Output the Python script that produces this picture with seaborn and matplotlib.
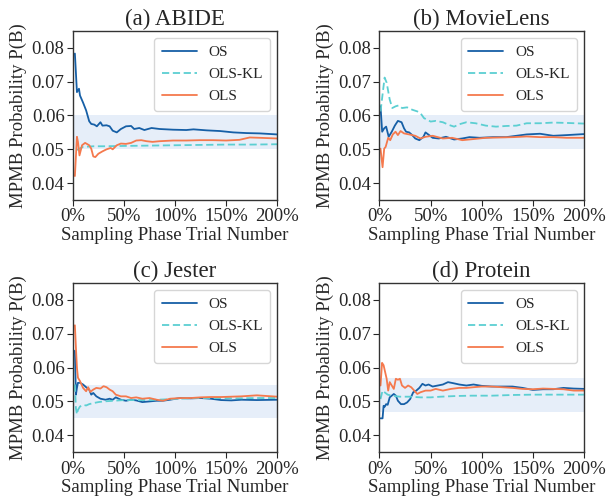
import numpy as np
import pandas as pd
import seaborn as sns
import matplotlib
matplotlib.use("Agg")
import matplotlib.pyplot as plt
from matplotlib.ticker import FuncFormatter

# ---- data (x = % of sampling phase trial number) ----
methods = ["OS", "OLS-KL", "OLS"]
titles = ["(a) ABIDE", "(b) MovieLens", "(c) Jester", "(d) Protein"]
bands = [(0.050, 0.060), (0.050, 0.060), (0.045, 0.055), (0.047, 0.057)]

abide_os_x = [2, 4, 6, 7, 10, 13, 16, 18, 21, 23.5, 27, 29, 33, 36, 39, 43, 47, 52, 57, 60, 65,
              70, 77, 85, 98, 111, 118, 131, 144, 157, 170, 183, 200]
abide_os = [0.0783, 0.0669, 0.0679, 0.0659, 0.0638, 0.0615, 0.0583, 0.0575, 0.0573, 0.0568, 0.0580,
            0.0570, 0.0571, 0.0568, 0.0555, 0.0550, 0.0560, 0.0568, 0.0569, 0.0560, 0.0563,
            0.0557, 0.0563, 0.0560, 0.0558, 0.0557, 0.0559, 0.0556, 0.0554, 0.0550, 0.0548, 0.0547, 0.0544]
abide_kl_x = [4, 7, 10, 15, 20, 30, 50, 75, 100, 125, 150, 175, 200]
abide_kl = [0.0498, 0.0503, 0.0507, 0.0508, 0.0509, 0.0509, 0.0510, 0.0511, 0.0512, 0.0513,
            0.0514, 0.0514, 0.0515]
abide_ols_x = [2, 4, 5, 6.5, 9, 12, 16, 18, 20, 22, 25, 29, 33, 37, 39, 43, 47, 52, 57, 62, 67,
               72, 78, 85, 98, 111, 124, 137, 150, 163, 173, 183, 200]
abide_ols = [0.0421, 0.0537, 0.0522, 0.0482, 0.0512, 0.0519, 0.0512, 0.0502, 0.0479, 0.0477, 0.0487,
             0.0494, 0.0500, 0.0504, 0.0500, 0.0512, 0.0517, 0.0516, 0.0519, 0.0526, 0.0527,
             0.0524, 0.0522, 0.0524, 0.0526, 0.0526, 0.0527, 0.0527, 0.0526, 0.0528, 0.0535, 0.0534, 0.0532]

movie_os_x = [1, 2.6, 4.6, 6.5, 9, 12, 15, 18, 21.6, 24, 26, 29, 32, 35, 39, 43, 45, 48.5, 52, 58,
              65, 73, 81, 88, 98, 111, 124, 144, 157, 170, 183, 200]
movie_os = [0.0627, 0.0552, 0.0562, 0.0567, 0.0537, 0.0552, 0.0570, 0.0584, 0.0580, 0.0562, 0.0552,
            0.0550, 0.0542, 0.0532, 0.0527, 0.0537, 0.0550, 0.0542, 0.0534, 0.0532, 0.0537,
            0.0529, 0.0532, 0.0536, 0.0534, 0.0536, 0.0536, 0.0544, 0.0546, 0.0540, 0.0542, 0.0545]
movie_kl_x = [1, 5, 7, 10, 12.5, 15.7, 19, 22, 27, 32, 37, 40, 43.6, 47, 50, 55, 62, 68, 73, 78,
              85, 94, 104, 114, 124, 134, 144, 157, 170, 183, 200]
movie_kl = [0.0612, 0.0712, 0.0697, 0.0647, 0.0622, 0.0627, 0.0630, 0.0622, 0.0624, 0.0617, 0.0612,
            0.0607, 0.0592, 0.0587, 0.0582, 0.0584, 0.0580, 0.0572, 0.0567, 0.0574, 0.0580,
            0.0577, 0.0570, 0.0567, 0.0569, 0.0570, 0.0577, 0.0577, 0.0579, 0.0578, 0.0576]
movie_ols_x = [1, 3, 4.6, 6, 8.5, 10.5, 13, 15.7, 18, 20.6, 24, 29, 35, 40, 45, 52, 62, 71, 81,
               91, 104, 117, 131, 144, 157, 170, 183, 200]
movie_ols = [0.0502, 0.0447, 0.0502, 0.0507, 0.0534, 0.0527, 0.0544, 0.0552, 0.0542, 0.0554, 0.0547,
             0.0544, 0.0540, 0.0532, 0.0537, 0.0540, 0.0532, 0.0534, 0.0527, 0.0530, 0.0534,
             0.0535, 0.0536, 0.0538, 0.0536, 0.0536, 0.0534, 0.0534]

jester_os_x = [2, 3, 4, 5, 7, 10, 13, 16, 18, 20, 23, 27, 32, 36, 39, 42, 47, 52, 57, 62, 68, 75,
               82, 88, 95, 105, 115, 125, 135, 145, 155, 165, 180, 200]
jester_os = [0.0650, 0.0520, 0.0540, 0.0555, 0.0555, 0.0550, 0.0542, 0.0535, 0.0520, 0.0525, 0.0515,
             0.0508, 0.0505, 0.0508, 0.0505, 0.0512, 0.0505, 0.0502, 0.0505, 0.0503, 0.0498, 0.0500,
             0.0502, 0.0502, 0.0505, 0.0510, 0.0509, 0.0510, 0.0508, 0.0504, 0.0503, 0.0505, 0.0504, 0.0505]
jester_kl_x = [2, 3, 4, 5, 7, 10, 13, 16, 20, 25, 30, 40, 50, 60, 75, 90, 105, 120, 140, 160, 180, 200]
jester_kl = [0.0550, 0.0480, 0.0462, 0.0475, 0.0485, 0.0490, 0.0488, 0.0492, 0.0495, 0.0498, 0.0500,
             0.0502, 0.0504, 0.0504, 0.0504, 0.0506, 0.0508, 0.0510, 0.0510, 0.0509, 0.0510, 0.0510]
jester_ols_x = [2, 3, 4, 5, 7, 10, 13, 15, 17, 20, 23, 27, 30, 33, 36, 39, 42, 47, 52, 57, 62, 68,
                75, 82, 88, 95, 105, 115, 125, 135, 145, 155, 165, 180, 200]
jester_ols = [0.0725, 0.0660, 0.0600, 0.0570, 0.0560, 0.0540, 0.0530, 0.0542, 0.0528, 0.0535, 0.0540,
              0.0538, 0.0545, 0.0542, 0.0535, 0.0530, 0.0520, 0.0515, 0.0515, 0.0510, 0.0512, 0.0508,
              0.0510, 0.0505, 0.0502, 0.0508, 0.0510, 0.0510, 0.0512, 0.0513, 0.0513, 0.0514, 0.0515,
              0.0518, 0.0514]

protein_os_x = [1, 3, 4, 5, 6.5, 8, 10, 12, 14, 16, 18, 21, 24, 27, 30, 33, 36, 39, 42, 45, 48, 52,
                57, 62, 67, 72, 78, 85, 92, 100, 110, 120, 130, 140, 150, 160, 170, 180, 190, 200]
protein_os = [0.0450, 0.0450, 0.0487, 0.0484, 0.0492, 0.0490, 0.0512, 0.0517, 0.0522, 0.0517, 0.0502,
              0.0492, 0.0492, 0.0497, 0.0507, 0.0527, 0.0532, 0.0540, 0.0552, 0.0547, 0.0550, 0.0544,
              0.0547, 0.0550, 0.0557, 0.0554, 0.0550, 0.0547, 0.0550, 0.0546, 0.0544, 0.0544, 0.0544,
              0.0540, 0.0534, 0.0536, 0.0536, 0.0540, 0.0538, 0.0537]
protein_kl_x = [1, 3, 5, 8, 12, 20, 30, 40, 50, 60, 75, 90, 110, 130, 150, 170, 200]
protein_kl = [0.0507, 0.0532, 0.0527, 0.0520, 0.0517, 0.0514, 0.0514, 0.0512, 0.0512, 0.0514, 0.0516,
              0.0517, 0.0517, 0.0519, 0.0520, 0.0520, 0.0520]
protein_ols_x = [1, 2.5, 4, 5.5, 7, 8.5, 10, 12, 14, 16, 18, 20, 22, 25, 28, 31, 34, 37, 40, 45, 50,
                 55, 62, 70, 78, 85, 92, 100, 110, 120, 130, 140, 150, 160, 170, 180, 190, 200]
protein_ols = [0.0547, 0.0614, 0.0607, 0.0587, 0.0567, 0.0532, 0.0557, 0.0547, 0.0537, 0.0567, 0.0564,
               0.0567, 0.0547, 0.0540, 0.0547, 0.0542, 0.0532, 0.0522, 0.0527, 0.0532, 0.0532, 0.0537,
               0.0532, 0.0537, 0.0540, 0.0540, 0.0542, 0.0544, 0.0544, 0.0542, 0.0540, 0.0537, 0.0536,
               0.0538, 0.0537, 0.0536, 0.0532, 0.0532]

panels = [
    [(abide_os_x, abide_os), (abide_kl_x, abide_kl), (abide_ols_x, abide_ols)],
    [(movie_os_x, movie_os), (movie_kl_x, movie_kl), (movie_ols_x, movie_ols)],
    [(jester_os_x, jester_os), (jester_kl_x, jester_kl), (jester_ols_x, jester_ols)],
    [(protein_os_x, protein_os), (protein_kl_x, protein_kl), (protein_ols_x, protein_ols)],
]

palette = {"OS": "#165fa6", "OLS-KL": "#5ccfd2", "OLS": "#f5794d"}
dashes = {"OS": "", "OLS-KL": (4, 2), "OLS": ""}

sns.set_style("ticks")
plt.rcParams['font.family'] = ['Liberation Serif', 'DejaVu Serif']

fig, axes = plt.subplots(2, 2, figsize=(6.07, 4.98), dpi=100)
fig.subplots_adjust(left=0.120, right=0.962, top=0.938, bottom=0.092, wspace=0.5, hspace=0.49)

for ax, title, band, series in zip(axes.flat, titles, bands, panels):
    rows = []
    for m, (xs, ys) in zip(methods, series):
        for x, y in zip(xs, ys):
            rows.append({"x": x, "y": y, "method": m})
    df = pd.DataFrame(rows)

    ax.axhspan(band[0], band[1], color="#e6eef9", zorder=0, lw=0)
    sns.lineplot(data=df, x="x", y="y", hue="method", style="method",
                 palette=palette, dashes=dashes, hue_order=methods, style_order=methods,
                 linewidth=1.3, ax=ax, sort=True, estimator=None)

    ax.set_xlim(0, 200)
    ax.set_ylim(0.035, 0.085)
    ax.set_xticks([0, 50, 100, 150, 200])
    ax.set_yticks([0.04, 0.05, 0.06, 0.07, 0.08])
    ax.xaxis.set_major_formatter(FuncFormatter(lambda v, p: f"{int(v)}%"))
    ax.yaxis.set_major_formatter(FuncFormatter(lambda v, p: f"{v:.2f}"))
    ax.tick_params(labelsize=13.5, length=4, width=0.8, pad=2)
    ax.set_title(title, fontsize=16.5, pad=4)
    ax.set_xlabel("Sampling Phase Trial Number", fontsize=13.5, labelpad=1)
    ax.set_ylabel("MPMB Probability P(B)", fontsize=13.5, labelpad=3)
    for s in ax.spines.values():
        s.set_color("#333333")
        s.set_linewidth(1.0)

    leg = ax.legend(loc="upper right", fontsize=11, frameon=True, handlelength=2.3,
                    borderpad=0.5, labelspacing=0.55, handletextpad=0.75, borderaxespad=0.45)
    leg.get_frame().set_edgecolor("#cccccc")

plt.savefig("out.png", dpi=100)
